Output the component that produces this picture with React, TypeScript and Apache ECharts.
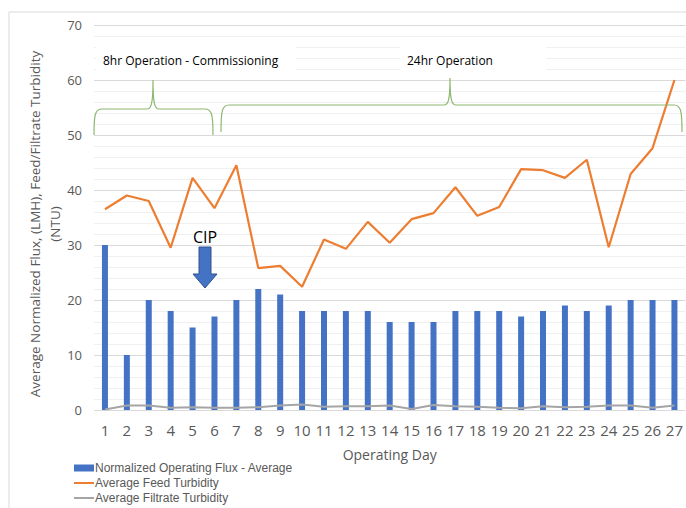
import React, { useEffect, useRef } from "react";
import * as echarts from "echarts";

const days = ["1","2","3","4","5","6","7","8","9","10","11","12","13","14","15","16","17","18","19","20","21","22","23","24","25","26","27"];
const fluxAvg = [30,10,20,18,15,17,20,22,21,18,18,18,18,16,16,16,18,18,18,17,18,19,18,19,20,20,20];
const feedTurbidity = [36.5,39,38,29.5,42.2,36.7,44.5,25.8,26.2,22.4,31,29.3,34.2,30.4,34.7,35.8,40.5,35.3,36.9,43.8,43.6,42.2,45.5,29.6,42.9,47.6,60];
const filtrateTurbidity = [0.1,0.8,0.8,0.4,0.5,0.4,0.4,0.5,0.8,1.0,0.6,0.7,0.7,0.8,0.2,0.9,0.7,0.6,0.4,0.3,0.7,0.5,0.6,0.8,0.8,0.4,0.8];
const seriesNames = ["Normalized Operating Flux - Average","Average Feed Turbidity","Average Filtrate Turbidity"];

const FONT = "'Open Sans', sans-serif";
const LEGEND_FONT = "'Liberation Sans', sans-serif";
const LINE_ICON = "path://M0,0 L20,0 L20,2 L0,2 Z";

function bracePath(x1: number, x2: number, xm: number, yb: number, ym: number, yt: number) {
  return `M${x1},${yb} C${x1},${ym + 6} ${x1 + 1},${ym} ${x1 + 8},${ym} L${xm - 6},${ym} C${xm - 2},${ym} ${xm},${ym - 4} ${xm},${yt} C${xm},${ym - 4} ${xm + 2},${ym} ${xm + 6},${ym} L${x2 - 8},${ym} C${x2 - 1},${ym} ${x2},${ym + 6} ${x2},${yb}`;
}

echarts.graphic.registerShape("brace1", echarts.graphic.extendPath(bracePath(94, 213, 153, 135, 109, 80), {}));
echarts.graphic.registerShape("brace2", echarts.graphic.extendPath(bracePath(221, 682, 450, 132, 105, 78), {}));

export default function App() {
  const ref = useRef<HTMLDivElement>(null);
  useEffect(() => {
    const chart = echarts.init(ref.current!, null, { renderer: "svg" });
    chart.setOption({
      animation: false,
      backgroundColor: "#fff",
      textStyle: { fontFamily: FONT },
      grid: { left: 94, right: 0, top: 25, bottom: 98, containLabel: false },
      legend: {
        orient: "vertical",
        left: 74,
        top: 461,
        itemWidth: 20,
        itemHeight: 7,
        itemGap: 1,
        padding: 0,
        textStyle: { fontFamily: LEGEND_FONT, fontSize: 12, lineHeight: 14, color: "#595959", padding: [0, 0, 0, -4] },
        data: [
          { name: seriesNames[0], icon: "rect" },
          { name: seriesNames[1], icon: LINE_ICON },
          { name: seriesNames[2], icon: LINE_ICON },
        ],
      },
      xAxis: {
        type: "category",
        data: days,
        axisLine: { show: false },
        axisTick: { show: false },
        axisLabel: { color: "#595959", fontSize: 15, margin: 12, fontFamily: FONT, interval: 0 },
        name: "Operating Day",
        nameLocation: "middle",
        nameGap: 37,
        nameTextStyle: { color: "#595959", fontSize: 14, fontFamily: FONT },
      },
      yAxis: {
        type: "value",
        min: 0,
        max: 70,
        interval: 10,
        axisLine: { show: false },
        axisTick: { show: false },
        axisLabel: { color: "#595959", fontSize: 13, margin: 12, fontFamily: FONT },
        splitLine: { lineStyle: { color: "#D9D9D9", width: 1 } },
        minorTick: { show: false, splitNumber: 5 },
        minorSplitLine: { show: true, lineStyle: { color: "#F0F0F0", width: 1 } },
      },
      series: [
        {
          name: seriesNames[0],
          type: "bar",
          data: fluxAvg,
          barWidth: 6,
          itemStyle: { color: "#4472C4" },
        },
        {
          name: seriesNames[1],
          type: "line",
          data: feedTurbidity,
          symbol: "none",
          lineStyle: { color: "#ED7D31", width: 2.2 },
          itemStyle: { color: "#ED7D31" },
        },
        {
          name: seriesNames[2],
          type: "line",
          data: filtrateTurbidity,
          symbol: "none",
          lineStyle: { color: "#A5A5A5", width: 2 },
          itemStyle: { color: "#A5A5A5" },
        },
      ],
      graphic: [
        { type: "rect", silent: true, z: 100, shape: { x: 9, y: 12, width: 700, height: 520 }, style: { fill: "none", stroke: "#D9D9D9", lineWidth: 1 } },
        { type: "rect", z: 100, shape: { x: 96, y: 40, width: 200, height: 32 }, style: { fill: "#fff" } },
        { type: "rect", z: 100, shape: { x: 400, y: 40, width: 146, height: 32 }, style: { fill: "#fff" } },
        { type: "text", z: 101, x: 103, y: 60, style: { text: "8hr Operation - Commissioning", font: `12px ${FONT}`, fill: "#000", textVerticalAlign: "middle" } },
        { type: "text", z: 101, x: 407, y: 60, style: { text: "24hr Operation", font: `12px ${FONT}`, fill: "#000", textVerticalAlign: "middle" } },
        { type: "brace1", z: 100, x: 0, y: 0, style: { fill: "none", stroke: "#8DB870", lineWidth: 1.2 } },
        { type: "brace2", z: 100, x: 0, y: 0, style: { fill: "none", stroke: "#8DB870", lineWidth: 1.2 } },
        { type: "text", z: 101, x: 205, y: 237, style: { text: "CIP", font: `16px ${FONT}`, fill: "#000", textAlign: "center", textVerticalAlign: "middle" } },
        { type: "polygon", z: 101, shape: { points: [[199, 247], [211, 247], [211, 274], [217, 274], [205, 288], [193, 274], [199, 274]] }, style: { fill: "#4472C4", stroke: "#2F528F", lineWidth: 1 } },
        { type: "text", z: 101, x: 35, y: 224, rotation: Math.PI / 2, style: { text: "Average Normalized Flux, (LMH), Feed/Filtrate Turbidity", font: `13.5px ${FONT}`, fill: "#595959", textAlign: "center", textVerticalAlign: "middle" } },
        { type: "text", z: 101, x: 55, y: 224, rotation: Math.PI / 2, style: { text: "(NTU)", font: `13.5px ${FONT}`, fill: "#595959", textAlign: "center", textVerticalAlign: "middle" } },
      ],
    });
    return () => chart.dispose();
  }, []);
  return <div ref={ref} style={{ position: "absolute", left: 0, top: 0, width: 686, height: 508 }} />;
}
